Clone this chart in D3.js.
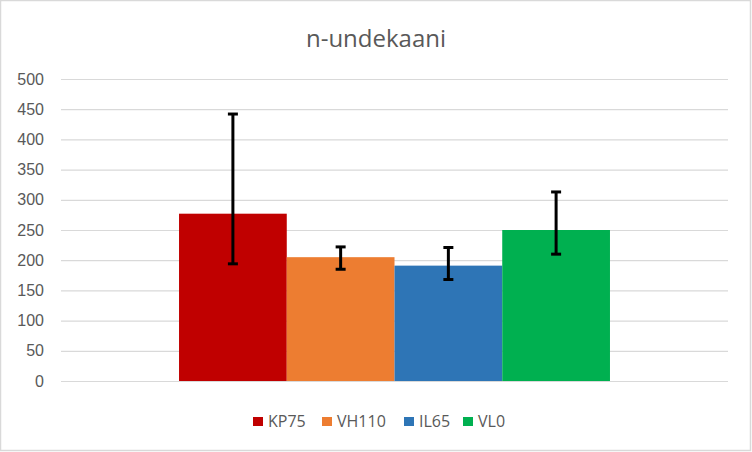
<!DOCTYPE html>
<html>
<head>
<meta charset="utf-8">
<script src="https://cdn.jsdelivr.net/npm/d3@7"></script>
<style>
  body { margin: 0; background: #fff; }
  svg { display: block; font-family: "Open Sans", "Liberation Sans", sans-serif; }
</style>
</head>
<body>
<svg id="chart"></svg>
<script>
// data
const series = ['KP75', 'VH110', 'IL65', 'VL0']
const values = [277, 205, 191, 250]
const errLow = [194, 185, 168, 210]
const errHigh = [442, 222, 221, 313]
const colors = ['#C00000', '#ED7D31', '#2E75B6', '#00B050']
const yTicks = [0, 50, 100, 150, 200, 250, 300, 350, 400, 450, 500]

const width = 752,
  height = 452,
  margin = {top: 79, right: 24, bottom: 71, left: 61};

const svg = d3.select('#chart')
  .attr('width', width)
  .attr('height', height)

// outer chart border
svg.append('rect')
  .attr('x', 0.5).attr('y', 0.5)
  .attr('width', width - 2).attr('height', height - 2)
  .attr('fill', '#fff')
  .attr('stroke', '#D9D9D9')
  .attr('stroke-width', 1.5)

const y = d3.scaleLinear()
  .domain([0, 500])
  .range([height - margin.bottom, margin.top])

const x0 = d3.scaleBand()
  .domain(['group'])
  .range([margin.left, width - margin.right])
  .padding(0.215)

const x1 = d3.scaleBand()
  .domain(series)
  .range([0, x0.bandwidth()])

// gridlines + tick labels
const yAxis = d3.axisLeft(y)
  .tickValues(yTicks)
  .tickSize(-(width - margin.left - margin.right))
  .tickPadding(17)

const gy = svg.append('g')
  .attr('transform', `translate(${margin.left},0)`)
  .call(yAxis)
gy.select('.domain').remove()
gy.selectAll('.tick line').attr('stroke', '#D9D9D9').attr('stroke-width', 1.2)
gy.selectAll('.tick text')
  .attr('fill', '#595959')
  .style('font-size', '16px')

const g = svg.append('g')
  .attr('transform', `translate(${x0('group')},0)`)

g.selectAll('rect.bar')
  .data(series)
  .enter()
  .append('rect')
  .attr('class', 'bar')
  .attr('x', d => x1(d))
  .attr('width', x1.bandwidth())
  .attr('y', (d, i) => y(values[i]))
  .attr('height', (d, i) => y(0) - y(values[i]))
  .attr('fill', (d, i) => colors[i])

// error bars
const capW = 10
const eb = g.selectAll('g.err')
  .data(series)
  .enter()
  .append('g')
  .attr('class', 'err')
  .attr('transform', d => `translate(${x1(d) + x1.bandwidth() / 2},0)`)

eb.append('line')
  .attr('y1', (d, i) => y(errLow[i]))
  .attr('y2', (d, i) => y(errHigh[i]))
  .attr('stroke', '#000').attr('stroke-width', 3)
eb.append('line')
  .attr('x1', -capW / 2).attr('x2', capW / 2)
  .attr('y1', (d, i) => y(errHigh[i])).attr('y2', (d, i) => y(errHigh[i]))
  .attr('stroke', '#000').attr('stroke-width', 3)
eb.append('line')
  .attr('x1', -capW / 2).attr('x2', capW / 2)
  .attr('y1', (d, i) => y(errLow[i])).attr('y2', (d, i) => y(errLow[i]))
  .attr('stroke', '#000').attr('stroke-width', 3)

// title
svg.append('text')
  .attr('x', width / 2)
  .attr('y', 47)
  .attr('text-anchor', 'middle')
  .attr('fill', '#595959')
  .style('font-size', '24px')
  .text('n-undekaani')

// legend
const legendX = [253, 322, 404, 463]
const legend = svg.append('g')
  .selectAll('g')
  .data(series)
  .enter()
  .append('g')
  .attr('transform', (d, i) => `translate(${legendX[i]},417)`)

legend.append('rect')
  .attr('width', 10).attr('height', 9)
  .attr('fill', (d, i) => colors[i])
legend.append('text')
  .attr('x', 15)
  .attr('y', 10)
  .attr('fill', '#595959')
  .style('font-size', '16px')
  .text(d => d)
</script>
</body>
</html>
